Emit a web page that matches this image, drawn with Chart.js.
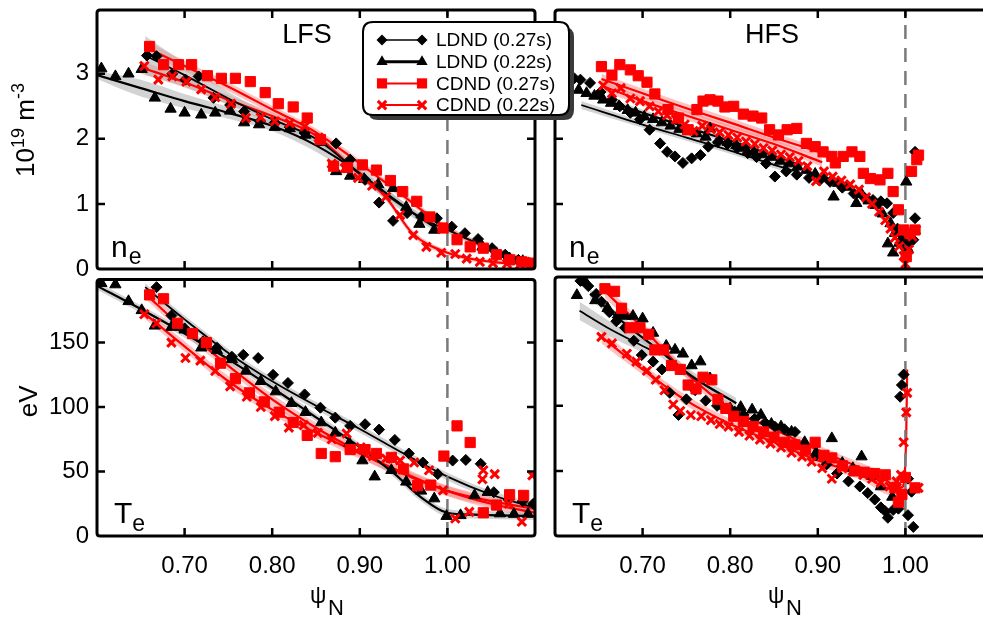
<!DOCTYPE html>
<html><head><meta charset="utf-8">
<script src="https://cdn.jsdelivr.net/npm/chart.js"></script>
<style>
html,body{margin:0;padding:0;width:983px;height:618px;overflow:hidden;background:#fff;position:relative}
canvas{position:absolute}
</style></head><body>
<canvas id="tl" width="600" height="320" style="left:0px;top:-20px;z-index:4"></canvas>
<canvas id="tr" width="460" height="320" style="left:545px;top:-20px;z-index:3"></canvas>
<canvas id="bl" width="600" height="361" style="left:0px;top:257px;z-index:2"></canvas>
<canvas id="br" width="460" height="361" style="left:545px;top:257px;z-index:1"></canvas>
<script>
// ---------------- DATA ----------------
const seriesNames = ['LDND (0.27s)', 'LDND (0.22s)', 'CDND (0.27s)', 'CDND (0.22s)'];
const xTickVals = [0.70, 0.80, 0.90, 1.00];
const neTickVals = [0, 1, 2, 3];
const teTickVals = [0, 50, 100, 150];
const xRange = [0.60, 1.10];
const neRange = [0, 3.98];
const teRange = [0, 199];
const separatrix = 1.00;

// LFS n_e
const lfsNe_LD27 = [[0.657,3.28],[0.668,3.27],[0.686,3.00],[0.701,2.91],[0.716,2.96],[0.733,2.63],[0.752,2.52],[0.768,2.42],[0.786,2.27],[0.803,2.25],[0.820,2.18],[0.837,2.09],[0.855,1.98],[0.873,1.93],[0.889,1.68],[0.906,1.37],[0.922,1.02],[0.938,0.74],[0.954,0.86],[0.970,0.80],[0.988,0.78],[1.005,0.65],[1.020,0.55],[1.035,0.46],[1.051,0.32],[1.066,0.22],[1.081,0.14],[1.094,0.09]];
const lfsNe_LD22 = [[0.605,3.08],[0.621,2.96],[0.636,3.00],[0.651,3.07],[0.666,2.63],[0.684,2.46],[0.700,2.40],[0.719,2.37],[0.735,2.40],[0.752,2.43],[0.768,2.25],[0.785,2.22],[0.803,2.18],[0.820,2.16],[0.838,2.06],[0.856,1.95],[0.873,1.50],[0.889,1.43],[0.905,1.38],[0.921,1.30],[0.938,1.24],[0.953,0.95],[0.968,0.69],[0.985,0.60],[1.040,0.34],[1.056,0.24],[1.071,0.16],[1.086,0.12]];
const lfsNe_CD27 = [[0.660,3.42],[0.676,3.14],[0.693,3.14],[0.708,3.14],[0.726,2.97],[0.742,2.93],[0.758,2.93],[0.775,2.88],[0.792,2.71],[0.807,2.54],[0.824,2.49],[0.840,2.32],[0.855,1.99],[0.870,1.58],[0.886,1.56],[0.903,1.60],[0.919,1.52],[0.935,1.36],[0.949,1.19],[0.965,1.04],[0.980,0.80],[0.995,0.63],[1.011,0.45],[1.026,0.34],[1.041,0.32],[1.056,0.22],[1.071,0.14],[1.085,0.11],[1.096,0.09]];
const lfsNe_CD22 = [[0.654,3.12],[0.670,2.91],[0.686,2.96],[0.702,2.88],[0.719,2.76],[0.735,2.64],[0.753,2.54],[0.770,2.32],[0.787,2.33],[0.803,2.27],[0.820,2.24],[0.837,2.19],[0.853,2.02],[0.868,1.62],[0.883,1.55],[0.898,1.40],[0.914,1.28],[0.930,1.11],[0.946,0.83],[0.961,0.52],[0.976,0.34],[0.993,0.25],[1.009,0.23],[1.022,0.16],[1.037,0.11],[1.052,0.09],[1.068,0.08],[1.083,0.07],[1.096,0.11]];
const lfsNe_fitLD27_x = [0.655,0.70,0.75,0.80,0.85,0.90,0.95,0.965,1.00,1.045,1.095];
const lfsNe_fitLD27_y = [3.28,2.98,2.62,2.30,2.00,1.47,0.97,0.82,0.60,0.34,0.09];
const lfsNe_fitLD27_e = [0.30,0.18,0.10,0.07,0.06,0.06,0.06,0.05,0.05,0.04,0.04];
const lfsNe_fitLD22_x = [0.60,0.65,0.70,0.75,0.80,0.85,0.90,0.94,0.985];
const lfsNe_fitLD22_y = [2.98,2.78,2.58,2.40,2.20,1.90,1.47,1.05,0.65];
const lfsNe_fitLD22_e = [0.06,0.13,0.11,0.09,0.08,0.10,0.10,0.08,0.06];
const lfsNe_fitCD27_x = [0.66,0.70,0.75,0.80,0.85,0.90,0.95,1.00,1.05,1.095];
const lfsNe_fitCD27_y = [3.38,3.12,2.80,2.45,2.10,1.62,1.12,0.62,0.30,0.12];
const lfsNe_fitCD27_e = [0.10,0.08,0.07,0.06,0.06,0.06,0.05,0.05,0.04,0.04];
const lfsNe_fitCD22_x = [0.65,0.70,0.75,0.80,0.85,0.90,0.93,0.96,1.00,1.05,1.095];
const lfsNe_fitCD22_y = [3.10,2.87,2.60,2.35,2.05,1.45,1.10,0.55,0.25,0.11,0.08];
const lfsNe_fitCD22_e = [0.10,0.08,0.07,0.06,0.06,0.06,0.05,0.05,0.04,0.03,0.03];

// HFS n_e
const hfsNe_LD27 = [[0.622,2.93],[0.629,2.91],[0.640,2.86],[0.652,2.72],[0.665,2.60],[0.674,2.50],[0.686,2.40],[0.697,2.30],[0.708,2.14],[0.720,1.93],[0.728,1.80],[0.737,1.73],[0.746,1.63],[0.756,1.70],[0.766,1.75],[0.775,1.88],[0.786,1.95],[0.797,1.92],[0.808,1.86],[0.820,1.78],[0.830,1.72],[0.841,1.62],[0.851,1.42],[0.864,1.50],[0.876,1.45],[0.890,1.40],[0.902,1.36],[0.914,1.34],[0.928,1.25],[0.941,1.16],[0.953,1.10],[0.963,1.06],[0.972,1.04],[0.979,1.01],[0.986,0.86],[0.991,0.62],[0.996,0.45],[1.001,0.30],[1.005,0.40],[1.009,0.45],[1.011,0.78],[1.011,1.80]];
const hfsNe_LD22 = [[0.627,2.75],[0.636,2.70],[0.645,2.66],[0.655,2.60],[0.664,2.55],[0.673,2.50],[0.683,2.44],[0.692,2.40],[0.702,2.34],[0.712,2.30],[0.722,2.25],[0.732,2.20],[0.742,2.15],[0.752,2.12],[0.762,2.08],[0.772,2.03],[0.777,2.16],[0.787,1.98],[0.797,1.95],[0.807,1.90],[0.817,1.86],[0.827,1.80],[0.837,1.76],[0.847,1.72],[0.857,1.66],[0.867,1.62],[0.877,1.57],[0.887,1.52],[0.897,1.46],[0.907,1.40],[0.918,1.11],[0.923,1.32],[0.933,1.26],[0.944,1.01],[0.950,1.15],[0.958,1.05],[0.966,0.98],[0.974,0.85],[0.980,0.39],[0.983,0.70],[0.986,0.25],[0.988,0.55],[0.993,0.40],[1.001,1.34],[1.003,0.30]];
const hfsNe_CD27 = [[0.653,3.11],[0.665,2.98],[0.674,3.14],[0.686,3.06],[0.695,2.97],[0.705,2.87],[0.714,2.69],[0.729,2.45],[0.741,2.32],[0.752,2.14],[0.762,2.45],[0.769,2.58],[0.777,2.60],[0.786,2.58],[0.794,2.49],[0.804,2.50],[0.815,2.38],[0.826,2.35],[0.836,2.32],[0.845,2.14],[0.855,2.06],[0.865,2.14],[0.876,2.16],[0.887,1.93],[0.897,1.88],[0.906,1.80],[0.916,1.73],[0.920,1.63],[0.929,1.73],[0.939,1.80],[0.948,1.73],[0.952,1.47],[0.960,1.39],[0.971,1.37],[0.980,1.47],[0.986,1.19],[0.992,0.91],[0.998,0.60],[1.001,0.19],[1.005,0.55],[1.007,1.50],[1.011,0.60],[1.013,1.68],[1.015,1.75]];
const hfsNe_CD22 = [[0.655,2.82],[0.665,2.70],[0.675,2.78],[0.686,2.62],[0.697,2.58],[0.708,2.50],[0.718,2.42],[0.728,2.36],[0.738,2.30],[0.748,2.22],[0.758,2.12],[0.768,2.20],[0.778,2.15],[0.788,2.10],[0.798,2.06],[0.808,2.02],[0.818,1.96],[0.828,1.92],[0.838,1.86],[0.848,1.82],[0.858,1.76],[0.868,1.72],[0.878,1.66],[0.888,1.58],[0.898,1.35],[0.907,1.50],[0.917,1.42],[0.927,1.36],[0.937,1.30],[0.947,1.22],[0.955,1.10],[0.962,1.00],[0.970,0.88],[0.977,0.75],[0.983,0.62],[0.988,0.48],[0.993,0.35],[0.998,0.20],[1.000,0.08],[1.004,0.30],[1.008,0.50],[1.012,0.60]];
const hfsNe_fitLD27_x = [0.63,0.70,0.75,0.80,0.85,0.875];
const hfsNe_fitLD27_y = [2.52,2.22,2.02,1.82,1.60,1.50];
const hfsNe_fitLD27_e = [0.06,0.05,0.05,0.05,0.05,0.05];
const hfsNe_fitLD22_x = [0.64,0.70,0.75,0.80,0.85,0.875];
const hfsNe_fitLD22_y = [2.68,2.40,2.18,1.97,1.74,1.62];
const hfsNe_fitLD22_e = [0.05,0.05,0.05,0.05,0.05,0.05];
const hfsNe_fitCD27_x = [0.653,0.70,0.75,0.80,0.85,0.918];
const hfsNe_fitCD27_y = [2.92,2.70,2.47,2.25,2.02,1.73];
const hfsNe_fitCD27_e = [0.08,0.07,0.07,0.07,0.07,0.07];
const hfsNe_fitCD22_x = [0.653,0.70,0.75,0.80,0.85,0.905];
const hfsNe_fitCD22_y = [2.82,2.58,2.36,2.14,1.92,1.64];
const hfsNe_fitCD22_e = [0.08,0.07,0.07,0.07,0.07,0.07];

// LFS T_e
const lfsTe_LD27 = [[0.668,193],[0.685,171],[0.700,161],[0.721,151],[0.737,146],[0.754,139],[0.767,140.5],[0.784,138],[0.801,125],[0.818,118.7],[0.837,109.8],[0.855,99.5],[0.872,91.8],[0.889,85.4],[0.906,86.7],[0.922,82.5],[0.940,74.5],[0.956,64],[0.972,57],[0.989,48],[1.006,58.5],[1.021,59],[1.038,56],[1.053,34],[1.070,28],[1.086,27],[1.098,25]];
const lfsTe_LD22 = [[0.605,196],[0.621,195],[0.636,182],[0.651,175],[0.666,163],[0.685,162],[0.700,160],[0.719,146],[0.737,144],[0.754,137],[0.770,128],[0.787,120],[0.804,112],[0.822,103],[0.838,96],[0.856,88],[0.872,80],[0.888,72],[0.903,58.5],[0.917,46],[0.936,51],[0.953,42],[0.970,35],[0.985,29],[0.999,15.4],[1.015,16],[1.031,31.5],[1.046,34],[1.060,17.4],[1.076,17],[1.092,17]];
const lfsTe_CD27 = [[0.660,187],[0.676,184],[0.692,165],[0.709,157],[0.725,150],[0.741,134],[0.758,122],[0.774,111],[0.791,104],[0.808,96],[0.824,88],[0.840,78],[0.856,64],[0.872,61.5],[0.889,67],[0.906,67],[0.919,64],[0.936,61],[0.950,52],[0.966,39],[0.981,39.5],[0.996,62],[1.011,85.4],[1.026,72.5],[1.041,18],[1.056,24],[1.071,32],[1.087,31.5]];
const lfsTe_CD22 = [[0.654,172],[0.668,165],[0.685,150],[0.701,138],[0.718,136],[0.735,128],[0.752,116],[0.771,108],[0.787,100],[0.803,93],[0.819,84],[0.836,86],[0.852,80],[0.868,75],[0.885,79.5],[0.901,68.7],[0.915,62],[0.930,60],[0.946,58.5],[0.962,57],[0.979,51],[0.995,35.4],[1.009,13.6],[1.025,18.7],[1.040,44],[1.041,51],[1.054,48],[1.070,25],[1.085,11],[1.097,47]];
const lfsTe_fitLD27_x = [0.655,0.70,0.75,0.80,0.85,0.90,0.95,1.00,1.05,1.10];
const lfsTe_fitLD27_y = [193,168,142,120,101,83,64,46,32,22];
const lfsTe_fitLD27_e = [3,3,3,3,3,3,3,3,3,3];
const lfsTe_fitLD22_x = [0.60,0.65,0.70,0.75,0.80,0.85,0.90,0.94,0.97,1.00,1.03,1.06,1.10];
const lfsTe_fitLD22_y = [194,176,157,137,115,92,69,48,30,18,16.5,16,15.5];
const lfsTe_fitLD22_e = [3,3,3,3,3,3,3,3,3,3,3,3,3];
const lfsTe_fitCD27_x = [0.655,0.70,0.75,0.80,0.85,0.90,0.95,1.00,1.05,1.10];
const lfsTe_fitCD27_y = [188,160,132,106,84,65,48,35,27,21];
const lfsTe_fitCD27_e = [4,4,4,4,4,4,4,4,4,4];
const lfsTe_fitCD22_x = [0.65,0.70,0.75,0.80,0.85,0.90,0.95,1.00,1.05,1.10];
const lfsTe_fitCD22_y = [175,147,120,98,80,64,49,35,25,18];
const lfsTe_fitCD22_e = [4,4,4,4,4,4,4,4,4,4];

// HFS T_e
const hfsTe_LD27 = [[0.629,196],[0.638,192],[0.647,186],[0.653,180],[0.662,172],[0.670,165],[0.680,160],[0.690,150],[0.699,139],[0.712,134],[0.722,128],[0.731,110],[0.741,93],[0.750,105],[0.760,112],[0.772,104],[0.785,100],[0.795,98],[0.805,95.6],[0.815,93],[0.828,90],[0.840,87],[0.851,84],[0.862,82],[0.874,80],[0.885,70],[0.898,62],[0.910,55],[0.922,48],[0.935,42],[0.948,38],[0.957,33],[0.965,28],[0.972,22],[0.977,19],[0.980,14],[0.986,20],[0.992,21],[0.994,107],[0.996,116],[0.998,124],[1.003,44],[1.007,34],[1.003,16],[1.009,7]];
const hfsTe_LD22 = [[0.625,185],[0.635,195],[0.646,181],[0.660,175],[0.672,170],[0.680,169],[0.689,169],[0.700,167],[0.712,156],[0.727,146],[0.737,143],[0.746,140],[0.756,131],[0.766,134],[0.777,121],[0.790,100],[0.800,98],[0.812,99],[0.825,97],[0.835,93],[0.847,86],[0.858,84],[0.870,80],[0.885,72],[0.898,64],[0.916,75],[0.928,56],[0.940,52],[0.950,61],[0.962,46],[0.972,38],[0.985,30]];
const hfsTe_CD27 = [[0.657,190],[0.668,188],[0.676,175],[0.686,160],[0.697,160],[0.707,155],[0.714,143],[0.724,143],[0.733,131],[0.743,128],[0.752,116],[0.761,113],[0.769,122],[0.779,120],[0.786,105],[0.795,98],[0.804,92],[0.815,88],[0.826,84],[0.838,80],[0.850,76],[0.862,72],[0.874,70],[0.886,66],[0.897,72],[0.907,62],[0.916,60],[0.928,54],[0.942,50],[0.953,49],[0.965,48],[0.977,47],[0.988,37],[0.992,26],[0.996,32],[1.000,45],[1.011,37]];
const hfsTe_CD22 = [[0.653,153],[0.665,148],[0.682,140],[0.693,134],[0.705,127],[0.715,120],[0.725,112],[0.735,101],[0.743,96],[0.755,93],[0.767,92],[0.778,89],[0.788,86],[0.798,84],[0.810,80],[0.822,77],[0.834,74],[0.846,71],[0.858,68],[0.870,64],[0.882,61],[0.893,57],[0.905,52],[0.916,44],[0.928,52],[0.940,50],[0.952,47],[0.962,44],[0.972,41],[0.982,38],[0.990,42],[0.995,47],[0.998,72],[1.001,95],[1.002,110],[1.015,37]];
const hfsTe_fitLD27_x = [0.628,0.66,0.70,0.715];
const hfsTe_fitLD27_y = [173,160,146,141];
const hfsTe_fitLD27_e = [7,6,5,5];
const hfsTe_fitLD22_x = [0.64,0.68,0.72,0.76,0.807];
const hfsTe_fitLD22_y = [186,163,142,121,102];
const hfsTe_fitLD22_e = [4,4,4,4,4];
const hfsTe_fitCD27_x = [0.657,0.70,0.75,0.80,0.85,0.90,0.95,0.98,0.995];
const hfsTe_fitCD27_y = [188,160,125,98,82,66,52,42,34];
const hfsTe_fitCD27_e = [5,4,4,4,4,4,4,5,5];
const hfsTe_fitCD22_x = [0.653,0.70,0.75,0.80,0.85,0.90,0.95,0.985,0.997,1.001,1.002];
const hfsTe_fitCD22_y = [153,128,104,86,72,58,47,36,38,80,128];
const hfsTe_fitCD22_e = [5,4,4,4,4,4,4,5,6,6,6];

// ---------------- STYLE ----------------
const FONT = '"Liberation Sans", Arial, Helvetica, sans-serif';
const RED = '#ff0000';
const STY = [
  {ps:'rectRot', r:5.5, c:'#000', bw:1, lw:1.8, band:'rgba(175,175,175,0.55)', lgLw:1.5},
  {ps:'triangle', r:6.5, c:'#000', bw:1, lw:2.2, band:'rgba(175,175,175,0.55)', lgLw:3},
  {ps:'rect', r:7.2, c:RED, bw:1, lw:2.2, band:'rgba(255,120,120,0.45)', lgLw:2},
  {ps:'crossRot', r:6, c:RED, bw:3, lw:2.2, band:'rgba(255,120,120,0.45)', lgLw:2},
];
const pointOrder = [2, 3, 1, 0];

function P(arr){ return arr.map(p => ({x:p[0], y:p[1]})); }
function F(xs, ys, es, s){ return xs.map((x,i) => ({x, y: ys[i] + s*(es ? es[i] : 0)})); }

function buildDatasets(points, fits, yMax){
  const ds = [];
  fits.forEach((f, i) => {
    const st = STY[i];
    ds.push({data:F(f[0],f[1],f[2],-1), showLine:true, pointRadius:0, borderColor:'rgba(0,0,0,0)', borderWidth:1, fill:false, cubicInterpolationMode:'monotone', order:20+i});
    ds.push({data:F(f[0],f[1],f[2],1), showLine:true, pointRadius:0, borderColor:'rgba(0,0,0,0)', borderWidth:1, fill:'-1', backgroundColor:st.band, cubicInterpolationMode:'monotone', order:20+i});
  });
  fits.forEach((f, i) => {
    const st = STY[i];
    ds.push({data:F(f[0],f[1],null,0), showLine:true, pointRadius:0, borderColor:st.c, borderWidth:st.lw, fill:false, cubicInterpolationMode:'monotone', order:10+i});
  });
  ds.push({data:[{x:separatrix,y:0},{x:separatrix,y:yMax}], showLine:true, pointRadius:0, borderColor:'#7a7a7a', borderWidth:2.5, borderDash:[14,9], fill:false, order:5});
  points.forEach((p, i) => {
    const st = STY[i];
    ds.push({data:P(p), showLine:false, pointStyle:st.ps, pointRadius:st.r, pointBorderWidth:st.bw,
      pointBackgroundColor:st.c, pointBorderColor:st.c, order:pointOrder[i]});
  });
  return ds;
}

function textRuns(ctx, parts, x, y){
  parts.forEach(p => { ctx.font = p.s + 'px ' + FONT; ctx.fillText(p.t, x, y + (p.dy||0)); x += ctx.measureText(p.t).width; });
}
function runsWidth(ctx, parts){
  let w = 0; parts.forEach(p => { ctx.font = p.s + 'px ' + FONT; w += ctx.measureText(p.t).width; }); return w;
}

function drawMarker(ctx, st, x, y){
  ctx.fillStyle = st.c; ctx.strokeStyle = st.c;
  ctx.beginPath();
  if (st.ps === 'rectRot'){ ctx.moveTo(x, y-st.r); ctx.lineTo(x+st.r, y); ctx.lineTo(x, y+st.r); ctx.lineTo(x-st.r, y); ctx.closePath(); ctx.fill(); }
  else if (st.ps === 'triangle'){ const r = st.r; ctx.moveTo(x, y-r); ctx.lineTo(x+r*0.866, y+r*0.5); ctx.lineTo(x-r*0.866, y+r*0.5); ctx.closePath(); ctx.fill(); }
  else if (st.ps === 'rect'){ const h = st.r*0.7071; ctx.fillRect(x-h, y-h, 2*h, 2*h); }
  else { const h = st.r*0.7071; ctx.lineWidth = 3; ctx.moveTo(x-h,y-h); ctx.lineTo(x+h,y+h); ctx.moveTo(x+h,y-h); ctx.lineTo(x-h,y+h); ctx.stroke(); }
}

function rrect(ctx, x, y, w, h, r){
  ctx.beginPath();
  ctx.moveTo(x+r, y); ctx.lineTo(x+w-r, y); ctx.quadraticCurveTo(x+w, y, x+w, y+r);
  ctx.lineTo(x+w, y+h-r); ctx.quadraticCurveTo(x+w, y+h, x+w-r, y+h);
  ctx.lineTo(x+r, y+h); ctx.quadraticCurveTo(x, y+h, x, y+h-r);
  ctx.lineTo(x, y+r); ctx.quadraticCurveTo(x, y, x+r, y); ctx.closePath();
}

function decoPlugin(cfg){
  return {
    id: 'deco',
    afterDraw(chart){
      const ctx = chart.ctx, a = chart.chartArea, xs = chart.scales.x, ys = chart.scales.y;
      ctx.save();
      ctx.strokeStyle = '#000'; ctx.lineWidth = 2.5;
      ctx.beginPath();
      const L = 8;
      xTickVals.forEach(v => { const px = xs.getPixelForValue(v);
        ctx.moveTo(px, a.bottom); ctx.lineTo(px, a.bottom - L);
        ctx.moveTo(px, a.top); ctx.lineTo(px, a.top + L); });
      cfg.yTicks.forEach(v => { if (v === 0) return; const py = ys.getPixelForValue(v);
        ctx.moveTo(a.left, py); ctx.lineTo(a.left + L, py);
        ctx.moveTo(a.right, py); ctx.lineTo(a.right - L, py); });
      ctx.stroke();
      ctx.lineWidth = 3;
      rrect(ctx, a.left, a.top, a.right - a.left, a.bottom - a.top, 3);
      ctx.stroke();

      ctx.fillStyle = '#000'; ctx.textBaseline = 'alphabetic';
      if (cfg.title){ ctx.textAlign = 'center'; ctx.font = '27px ' + FONT; ctx.fillText(cfg.title, a.left + cfg.titleDx, a.top + 33); }
      ctx.textAlign = 'left';
      if (cfg.varName === 'n') {
        textRuns(ctx, [{t:'n', s:30}], a.left + 14, a.bottom - 12);
        ctx.font = '30px ' + FONT; const w = ctx.measureText('n').width;
        textRuns(ctx, [{t:'e', s:23}], a.left + 14 + w + 1, a.bottom - 5);
      } else {
        textRuns(ctx, [{t:'T', s:30}], a.left + 17, a.bottom - 13);
        ctx.font = '30px ' + FONT; const w = ctx.measureText('T').width;
        textRuns(ctx, [{t:'e', s:23}], a.left + 17 + w, a.bottom - 5);
      }
      if (cfg.yTitle){
        const parts = cfg.yTitle;
        ctx.save();
        ctx.translate(cfg.yTitleX, a.top + cfg.yTitleDy);
        ctx.rotate(-Math.PI/2);
        const w = runsWidth(ctx, parts);
        textRuns(ctx, parts, -w/2, 0);
        ctx.restore();
      }
      if (cfg.xTitle){
        textRuns(ctx, [{t:'ψ', s:23}], a.left + 213, a.bottom + 67);
        textRuns(ctx, [{t:'N', s:22}], a.left + 231, a.bottom + 79);
      }
      if (cfg.legend){
        const lx = a.left + 266, ly = a.top + 12, lw = 206, lh = 93;
        ctx.fillStyle = '#3a3a3a'; rrect(ctx, lx + 5, ly + 5, lw, lh, 10); ctx.fill();
        ctx.fillStyle = '#fff'; rrect(ctx, lx, ly, lw, lh, 10); ctx.fill();
        ctx.strokeStyle = '#000'; ctx.lineWidth = 2; rrect(ctx, lx, ly, lw, lh, 10); ctx.stroke();
        seriesNames.forEach((name, i) => {
          const st = STY[i]; const y = a.top + 30 + i * 21.7;
          const x0 = a.left + 285, x1 = a.left + 325;
          ctx.strokeStyle = st.c; ctx.lineWidth = st.lgLw;
          ctx.beginPath(); ctx.moveTo(x0, y); ctx.lineTo(x1, y); ctx.stroke();
          drawMarker(ctx, st, x0, y); drawMarker(ctx, st, x1, y);
          ctx.fillStyle = '#000'; ctx.font = '19px ' + FONT; ctx.textBaseline = 'middle';
          ctx.fillText(name, a.left + 339, y + 1);
          ctx.textBaseline = 'alphabetic';
        });
      }
      ctx.restore();
    }
  };
}

function makeChart(id, points, fits, yRange, yTicks, showY, showX, pad, cfg){
  const yScale = {type:'linear', min:yRange[0], max:yRange[1], display:showY,
    afterBuildTicks: s => { s.ticks = yTicks.map(v => ({value:v})); },
    grid:{display:false, drawTicks:false}, border:{display:false},
    ticks:{padding:8, color:'#000', font:{family:FONT, size:24}, autoSkip:false}};
  if (showY) yScale.afterFit = s => { s.width = 97; };
  const xScale = {type:'linear', min:xRange[0], max:xRange[1], display:showX,
    afterBuildTicks: s => { s.ticks = xTickVals.map(v => ({value:v})); },
    grid:{display:false, drawTicks:false}, border:{display:false},
    ticks:{padding:16, color:'#000', font:{family:FONT, size:24}, autoSkip:false, maxRotation:0, callback: v => Number(v).toFixed(2)}};
  if (showX) xScale.afterFit = s => { s.height = 82; };
  cfg.yTicks = yTicks;
  return new Chart(document.getElementById(id), {
    type:'scatter',
    data:{datasets: buildDatasets(points, fits, yRange[1])},
    options:{responsive:false, animation:false, devicePixelRatio:1, events:[],
      layout:{padding:pad},
      plugins:{legend:{display:false}, tooltip:{enabled:false}},
      scales:{x:xScale, y:yScale}},
    plugins:[decoPlugin(cfg)]
  });
}

const neTitle = [{t:'10', s:26},{t:'19', s:18, dy:-10},{t:' m', s:26},{t:'-3', s:18, dy:-10}];
const teTitle = [{t:'eV', s:26}];

makeChart('tl',
  [lfsNe_LD27, lfsNe_LD22, lfsNe_CD27, lfsNe_CD22],
  [[lfsNe_fitLD27_x,lfsNe_fitLD27_y,lfsNe_fitLD27_e],[lfsNe_fitLD22_x,lfsNe_fitLD22_y,lfsNe_fitLD22_e],[lfsNe_fitCD27_x,lfsNe_fitCD27_y,lfsNe_fitCD27_e],[lfsNe_fitCD22_x,lfsNe_fitCD22_y,lfsNe_fitCD22_e]],
  neRange, neTickVals, true, false, {left:0, top:30, right:65, bottom:31},
  {title:'LFS', titleDx:210, varName:'n', yTitle:neTitle, yTitleX:34, yTitleDy:120, legend:true});
makeChart('tr',
  [hfsNe_LD27, hfsNe_LD22, hfsNe_CD27, hfsNe_CD22],
  [[hfsNe_fitLD27_x,hfsNe_fitLD27_y,hfsNe_fitLD27_e],[hfsNe_fitLD22_x,hfsNe_fitLD22_y,hfsNe_fitLD22_e],[hfsNe_fitCD27_x,hfsNe_fitCD27_y,hfsNe_fitCD27_e],[hfsNe_fitCD22_x,hfsNe_fitCD22_y,hfsNe_fitCD22_e]],
  neRange, neTickVals, false, false, {left:10, top:30, right:12, bottom:31},
  {title:'HFS', titleDx:217, varName:'n'});
makeChart('bl',
  [lfsTe_LD27, lfsTe_LD22, lfsTe_CD27, lfsTe_CD22],
  [[lfsTe_fitLD27_x,lfsTe_fitLD27_y,lfsTe_fitLD27_e],[lfsTe_fitLD22_x,lfsTe_fitLD22_y,lfsTe_fitLD22_e],[lfsTe_fitCD27_x,lfsTe_fitCD27_y,lfsTe_fitCD27_e],[lfsTe_fitCD22_x,lfsTe_fitCD22_y,lfsTe_fitCD22_e]],
  teRange, teTickVals, true, true, {left:0, top:20, right:65, bottom:0},
  {varName:'T', yTitle:teTitle, yTitleX:37, yTitleDy:122, xTitle:true});
makeChart('br',
  [hfsTe_LD27, hfsTe_LD22, hfsTe_CD27, hfsTe_CD22],
  [[hfsTe_fitLD27_x,hfsTe_fitLD27_y,hfsTe_fitLD27_e],[hfsTe_fitLD22_x,hfsTe_fitLD22_y,hfsTe_fitLD22_e],[hfsTe_fitCD27_x,hfsTe_fitCD27_y,hfsTe_fitCD27_e],[hfsTe_fitCD22_x,hfsTe_fitCD22_y,hfsTe_fitCD22_e]],
  teRange, teTickVals, false, true, {left:10, top:20, right:12, bottom:0},
  {varName:'T', xTitle:true});
</script>
</body></html>
